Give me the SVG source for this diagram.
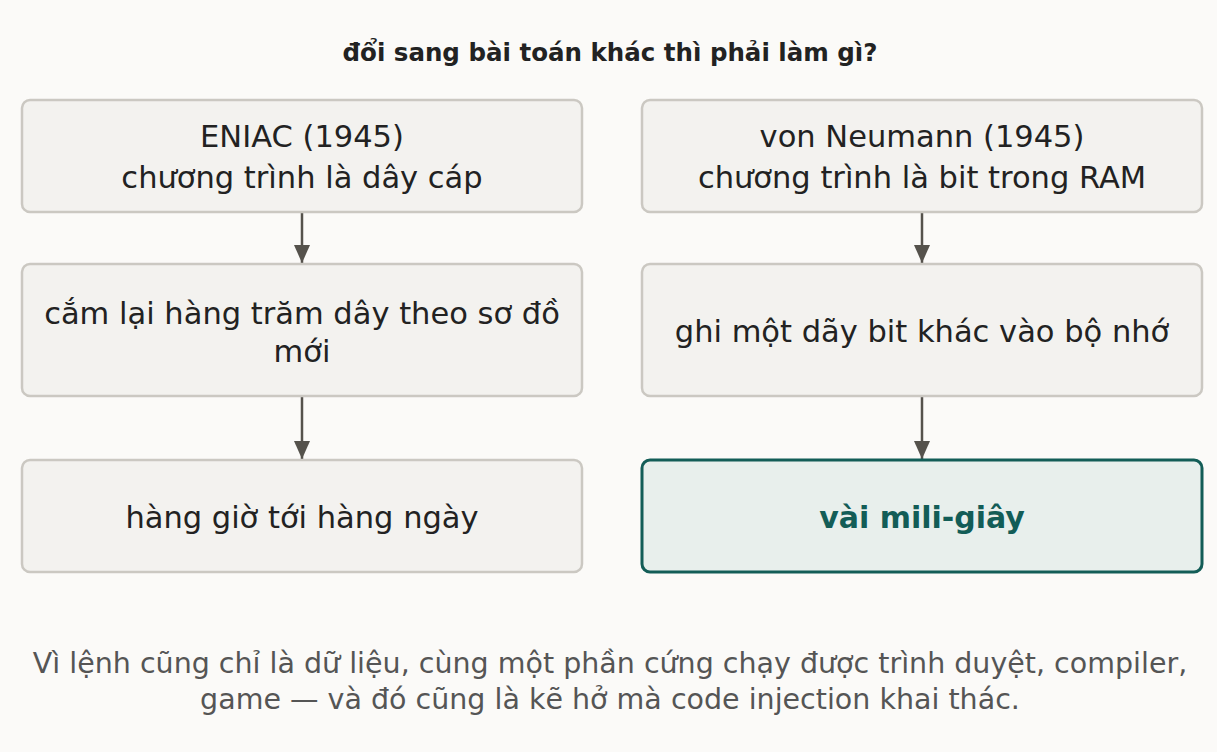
<svg xmlns="http://www.w3.org/2000/svg" width="1217" height="752" viewBox="0 0 1217 752">
<style>
.n{fill:#f3f2ef;stroke:#cbc8c2;stroke-width:2.5}
.hl{fill:#e8efec;stroke:#135d57;stroke-width:3}
.t{font-family:"DejaVu Sans","Noto Sans",sans-serif;font-size:30.5px;fill:#222;text-anchor:middle}
.tb{font-family:"DejaVu Sans","Noto Sans",sans-serif;font-size:30px;font-weight:bold;fill:#135d57;text-anchor:middle}
.c{stroke:#55524c;stroke-width:2.5;fill:none;marker-end:url(#ah)}
.f{font-family:"DejaVu Sans","Noto Sans",sans-serif;font-size:28.5px;fill:#555;text-anchor:middle}
</style>
<defs>
<marker id="ah" markerWidth="18" markerHeight="16" refX="18" refY="8" orient="auto" markerUnits="userSpaceOnUse" viewBox="0 0 18 16">
<path d="M0,0 L18,8 L0,16 Z" fill="#55524c"/>
</marker>
</defs>
<rect width="1217" height="752" fill="#fbfaf8"/>
<text x="610" y="61" font-family="'DejaVu Sans','Noto Sans',sans-serif" font-size="24.5" font-weight="bold" fill="#222" text-anchor="middle">đổi sang bài toán khác thì phải làm gì?</text>
<g id="connectors">
<line class="c" x1="302" y1="213" x2="302" y2="263"/>
<line class="c" x1="302" y1="397" x2="302" y2="459"/>
<line class="c" x1="922" y1="213" x2="922" y2="263"/>
<line class="c" x1="922" y1="397" x2="922" y2="459"/>
</g>
<g id="eniac">
<rect class="n" x="22" y="100" width="560" height="112" rx="8"/>
<text class="t" x="302" y="147">ENIAC (1945)</text>
<text class="t" x="302" y="188">chương trình là dây cáp</text>
</g>
<g id="cam">
<rect class="n" x="22" y="264" width="560" height="132" rx="8"/>
<text class="t" x="302" y="324">cắm lại hàng trăm dây theo sơ đồ</text>
<text class="t" x="302" y="362">mới</text>
</g>
<g id="hang">
<rect class="n" x="22" y="460" width="560" height="112" rx="8"/>
<text class="t" x="302" y="528">hàng giờ tới hàng ngày</text>
</g>
<g id="vonneumann">
<rect class="n" x="642" y="100" width="560" height="112" rx="8"/>
<text class="t" x="922" y="147">von Neumann (1945)</text>
<text class="t" x="922" y="188">chương trình là bit trong RAM</text>
</g>
<g id="ghi">
<rect class="n" x="642" y="264" width="560" height="132" rx="8"/>
<text class="t" x="922" y="342">ghi một dãy bit khác vào bộ nhớ</text>
</g>
<g id="vai">
<rect class="hl" x="642" y="460" width="560" height="112" rx="8"/>
<text class="tb" x="922" y="528">vài mili-giây</text>
</g>
<text class="f" x="610" y="673">Vì lệnh cũng chỉ là dữ liệu, cùng một phần cứng chạy được trình duyệt, compiler,</text>
<text class="f" x="610" y="709">game — và đó cũng là kẽ hở mà code injection khai thác.</text>
</svg>
